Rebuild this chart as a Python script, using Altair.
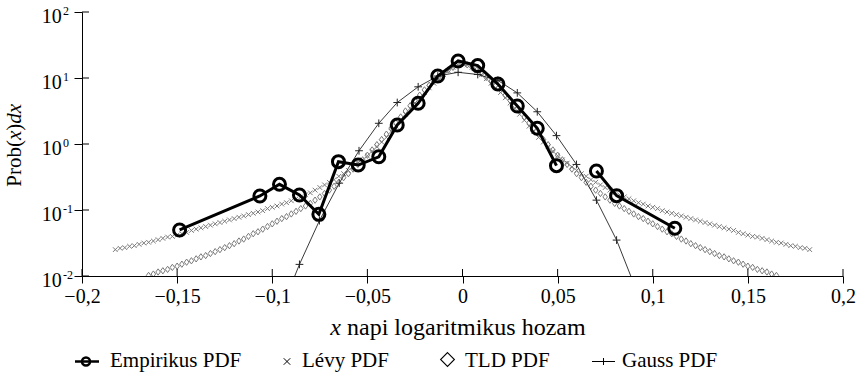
import altair as alt
import pandas as pd

# ---- data -------------------------------------------------------------
# empirical histogram of daily log returns (bin centres / density)
EMP_X = [-0.1487, -0.1065, -0.0962, -0.0857, -0.0755, -0.0652, -0.0548, -0.0440,
         -0.0343, -0.0233, -0.0130, -0.0023, 0.0080, 0.0186, 0.0288, 0.0393, 0.0494,
         0.0704, 0.0810, 0.1116]
EMP_Y = [0.0498, 0.163, 0.245, 0.169, 0.086, 0.54, 0.48, 0.64,
         1.94, 4.14, 10.7, 18.1, 15.4, 8.1, 3.76, 1.73, 0.47,
         0.39, 0.165, 0.053]
EMP_SEG = [0] * 17 + [1] * 3  # the curve is broken at the empty 0.06 bin

# fitted Gaussian evaluated at the same bin centres
GAUSS_X = [-0.0959, -0.0857, -0.0752, -0.0648, -0.0544, -0.0440, -0.0343, -0.0233,
           -0.0130, -0.0023, 0.0080, 0.0186, 0.0288, 0.0393, 0.0494, 0.0599, 0.0704,
           0.0810, 0.0913]
GAUSS_Y = [0.0028, 0.0150, 0.069, 0.255, 0.79, 2.06, 4.25, 7.35,
           10.7, 12.2, 11.3, 9.2, 5.95, 3.08, 1.34, 0.49, 0.141,
           0.035, 0.0062]

# Lévy PDF, sampled from -0.1825 in steps of 0.0025
LEVY_X0, LEVY_STEP = -0.1825, 0.0025
LEVY_Y = [0.0251, 0.0263, 0.0269, 0.0282, 0.0288, 0.0302, 0.0316, 0.0324, 0.0339, 0.0355,
          0.0372, 0.0389, 0.0398, 0.0417, 0.0437, 0.0457, 0.0490, 0.0513, 0.0537, 0.0562,
          0.0589, 0.0617, 0.0646, 0.0676, 0.0708, 0.0741, 0.0776, 0.0813, 0.0851, 0.0891,
          0.0933, 0.0977, 0.105, 0.110, 0.115, 0.123, 0.129, 0.138, 0.148, 0.158,
          0.170, 0.182, 0.200, 0.219, 0.240, 0.263, 0.288, 0.324, 0.355, 0.398,
          0.447, 0.513, 0.575, 0.661, 0.776, 0.912, 1.07, 1.26, 1.55, 1.86,
          2.29, 2.82, 3.47, 4.17, 5.01, 6.03, 7.08, 8.32, 9.77, 11.2,
          12.9, 14.5, 15.8,
          16.6,
          15.8, 14.5, 12.9, 11.2, 9.77, 8.32, 7.08, 6.03, 5.01, 4.17,
          3.47, 2.82, 2.29, 1.86, 1.55, 1.26, 1.07, 0.912, 0.776, 0.661,
          0.575, 0.513, 0.447, 0.398, 0.355, 0.324, 0.288, 0.263, 0.240, 0.219,
          0.200, 0.182, 0.170, 0.158, 0.148, 0.138, 0.129, 0.123, 0.115, 0.110,
          0.105, 0.0977, 0.0933, 0.0891, 0.0851, 0.0813, 0.0776, 0.0741, 0.0708, 0.0676,
          0.0646, 0.0617, 0.0589, 0.0562, 0.0537, 0.0513, 0.0490, 0.0457, 0.0437, 0.0417,
          0.0398, 0.0389, 0.0372, 0.0355, 0.0339, 0.0324, 0.0316, 0.0302, 0.0288, 0.0282,
          0.0269, 0.0263, 0.0251]

# truncated Lévy (TLD) PDF, sampled from -0.165 in steps of 0.0025
TLD_X0, TLD_STEP = -0.165, 0.0025
TLD_Y = [0.0102, 0.0107, 0.0115, 0.0120, 0.0126, 0.0135, 0.0141, 0.0151, 0.0162, 0.0170,
         0.0182, 0.0195, 0.0204, 0.0219, 0.0234, 0.0251, 0.0269, 0.0288, 0.0309, 0.0339,
         0.0363, 0.0398, 0.0437, 0.0468, 0.0513, 0.0562, 0.0617, 0.0676, 0.0741, 0.0794,
         0.0871, 0.0955, 0.105, 0.115, 0.126, 0.141, 0.158, 0.178, 0.200, 0.229,
         0.263, 0.309, 0.355, 0.417, 0.490, 0.575, 0.676, 0.813, 0.977, 1.17,
         1.41, 1.74, 2.09, 2.57, 3.16, 3.80, 4.57, 5.50, 6.61, 7.76,
         8.91, 10.2, 11.7, 13.2, 14.5, 15.8,
         16.6,
         15.8, 14.5, 13.2, 11.7, 10.2, 8.91, 7.76, 6.61, 5.50, 4.57,
         3.80, 3.16, 2.57, 2.09, 1.74, 1.41, 1.17, 0.977, 0.813, 0.676,
         0.575, 0.490, 0.417, 0.355, 0.309, 0.263, 0.229, 0.200, 0.178, 0.158,
         0.141, 0.126, 0.115, 0.105, 0.0955, 0.0871, 0.0794, 0.0741, 0.0676, 0.0617,
         0.0562, 0.0513, 0.0468, 0.0437, 0.0398, 0.0363, 0.0339, 0.0309, 0.0288, 0.0269,
         0.0251, 0.0234, 0.0219, 0.0204, 0.0195, 0.0182, 0.0170, 0.0162, 0.0151, 0.0141,
         0.0135, 0.0126, 0.0120, 0.0115, 0.0107, 0.0102]

X_TICKS = [-0.2, -0.15, -0.1, -0.05, 0, 0.05, 0.1, 0.15, 0.2]
Y_TICKS = [0.01, 0.1, 1, 10, 100]
Y_EXP = ["-2", "-1", "0", "1", "2"]

LEGEND_LABELS = ["Empirikus PDF", "Lévy PDF", "TLD PDF", "Gauss PDF"]
X_TITLE_VAR = "x"
X_TITLE_REST = "napi logaritmikus hozam"

# ---- layout -----------------------------------------------------------
W, H = 761, 264
FONT = "'Liberation Serif', 'Times New Roman', Times, 'DejaVu Serif', serif"
GRAY = "#7a7a7a"

xs = alt.Scale(domain=[-0.2, 0.2], nice=False, zero=False)
ys = alt.Scale(type="log", domain=[0.01, 100], nice=False)

x_axis = alt.Axis(values=X_TICKS, title=None, grid=False, tickSize=7, tickColor="black",
                  domainColor="black", labelColor="black", labelFont=FONT, labelFontSize=20,
                  labelPadding=3, labelFlush=False, labelOverlap=False,
                  labelExpr="datum.value == 0 ? '0' : replace(replace(format(datum.value, '.2~f'), '.', ','), '-', '\u2212')")
y_axis = alt.Axis(values=Y_TICKS, title=None, grid=False, labels=False, tickSize=8,
                  tickColor="black", domainColor="black")

X = lambda f: alt.X(f, scale=xs, axis=x_axis)
Y = lambda f: alt.Y(f, scale=ys, axis=y_axis)

levy = pd.DataFrame({"x": [round(LEVY_X0 + LEVY_STEP * i, 4) for i in range(len(LEVY_Y))], "y": LEVY_Y})
tld = pd.DataFrame({"x": [round(TLD_X0 + TLD_STEP * i, 4) for i in range(len(TLD_Y))], "y": TLD_Y})
gauss = pd.DataFrame({"x": GAUSS_X, "y": GAUSS_Y})
emp = pd.DataFrame({"x": EMP_X, "y": EMP_Y, "seg": EMP_SEG})
one = pd.DataFrame({"a": [0]})

CROSS = "M-1,-1L1,1M-1,1L1,-1"
PLUS = "M-1,0L1,0M0,-1L0,1"
LOZENGE = "M0,-1L0.72,0L0,1L-0.72,0Z"
DIAMOND = "M0,-1L1,0L0,1L-1,0Z"

layers = []

# Lévy and TLD model curves (markers only)
layers.append(alt.Chart(levy).mark_point(shape=CROSS, size=22, filled=False, color=GRAY,
                                         strokeWidth=1, opacity=1, clip=True)
              .encode(x=X("x:Q"), y=Y("y:Q")))
layers.append(alt.Chart(tld).mark_point(shape=LOZENGE, size=40, filled=False, color=GRAY,
                                        strokeWidth=1, opacity=1, clip=True)
              .encode(x=X("x:Q"), y=Y("y:Q")))

# Gaussian: thin line with plus markers
layers.append(alt.Chart(gauss).mark_line(color="#222", strokeWidth=0.9, clip=True)
              .encode(x=X("x:Q"), y=Y("y:Q")))
layers.append(alt.Chart(gauss).mark_point(shape=PLUS, size=60, filled=False, color="#222",
                                          strokeWidth=1, opacity=1, clip=True)
              .encode(x=X("x:Q"), y=Y("y:Q")))

# empirical PDF: thick line with open circles
layers.append(alt.Chart(emp).mark_line(color="black", strokeWidth=3, clip=True)
              .encode(x=X("x:Q"), y=Y("y:Q"), detail="seg:N"))
layers.append(alt.Chart(emp).mark_point(shape="circle", size=144, filled=False, color="black",
                                        strokeWidth=3, opacity=1, clip=True)
              .encode(x=X("x:Q"), y=Y("y:Q")))

# inward halves of the axis ticks
layers.append(alt.Chart(pd.DataFrame({"v": X_TICKS})).mark_tick(orient="vertical", size=7, thickness=1,
                                                                color="black", opacity=1)
              .encode(x=X("v:Q"), y=alt.value(H - 3.5)))
layers.append(alt.Chart(pd.DataFrame({"v": Y_TICKS})).mark_tick(orient="horizontal", size=7, thickness=1,
                                                                color="black", opacity=1)
              .encode(y=Y("v:Q"), x=alt.value(3.5)))

# y tick labels: 10 with a raised exponent
ylab = pd.DataFrame({"v": Y_TICKS, "e": Y_EXP})
layers.append(alt.Chart(ylab).mark_text(align="right", baseline="alphabetic", font=FONT, fontSize=20,
                                        dy=10.5, color="black")
              .encode(y=Y("v:Q"), x=alt.value(-20.3), text=alt.value("10")))
layers.append(alt.Chart(ylab).mark_text(align="left", baseline="alphabetic", font=FONT, fontSize=12,
                                        dy=3, color="black")
              .encode(y=Y("v:Q"), x=alt.value(-19), text="e:N"))

# y axis title: Prob(x)dx with italic variables, reading upwards
def txt(s, x, y, size, **kw):
    return alt.Chart(one).mark_text(font=FONT, fontSize=size, color="black", **kw).encode(
        x=alt.value(x), y=alt.value(y), text=alt.value(s))

yt = dict(angle=270, align="left", baseline="alphabetic")
layers += [
    txt("Prob(", -61, 174.7, 21, **yt),
    txt("x", -61, 128.0, 21, fontStyle="italic", **yt),
    txt(")", -61, 118.7, 21, **yt),
    txt("dx", -61, 111.7, 21, fontStyle="italic", **yt),
]

# x axis title
layers += [
    txt(X_TITLE_VAR, 259, 323, 24, fontStyle="italic", align="right", baseline="alphabetic"),
    txt(X_TITLE_REST, 265, 323, 24, align="left", baseline="alphabetic"),
]

# legend row
LEG_Y = 349.5
LEG_BASE = 355
LEG_TEXT_X = [28, 220, 383, 540]
layers += [
    alt.Chart(one).mark_rule(color="black", strokeWidth=2.5).encode(
        x=alt.value(-7), x2=alt.value(17), y=alt.value(LEG_Y)),
    alt.Chart(one).mark_point(shape="circle", size=64, filled=False, color="black",
                              strokeWidth=2.5, opacity=1).encode(x=alt.value(4), y=alt.value(LEG_Y)),
    alt.Chart(one).mark_point(shape=CROSS, size=42, filled=False, color="black",
                              strokeWidth=1, opacity=1).encode(x=alt.value(205), y=alt.value(LEG_Y)),
    alt.Chart(one).mark_point(shape=DIAMOND, size=190, filled=False, color="black",
                              strokeWidth=1.1, opacity=1).encode(x=alt.value(365.5), y=alt.value(347.5)),
    alt.Chart(one).mark_rule(color="black", strokeWidth=1).encode(
        x=alt.value(510), x2=alt.value(533), y=alt.value(LEG_Y)),
    alt.Chart(one).mark_point(shape=PLUS, size=49, filled=False, color="black",
                              strokeWidth=1, opacity=1).encode(x=alt.value(521.5), y=alt.value(LEG_Y)),
]
for label, lx in zip(LEGEND_LABELS, LEG_TEXT_X):
    layers.append(txt(label, lx, LEG_BASE, 21, align="left", baseline="alphabetic"))

chart = (
    alt.layer(*layers)
    .properties(width=W, height=H, autosize="none",
                padding={"left": 82, "top": 12, "right": 13, "bottom": 97})
    .configure_view(stroke=None)
)

chart.save("out.html", embed_options={"renderer": "svg", "actions": False})
